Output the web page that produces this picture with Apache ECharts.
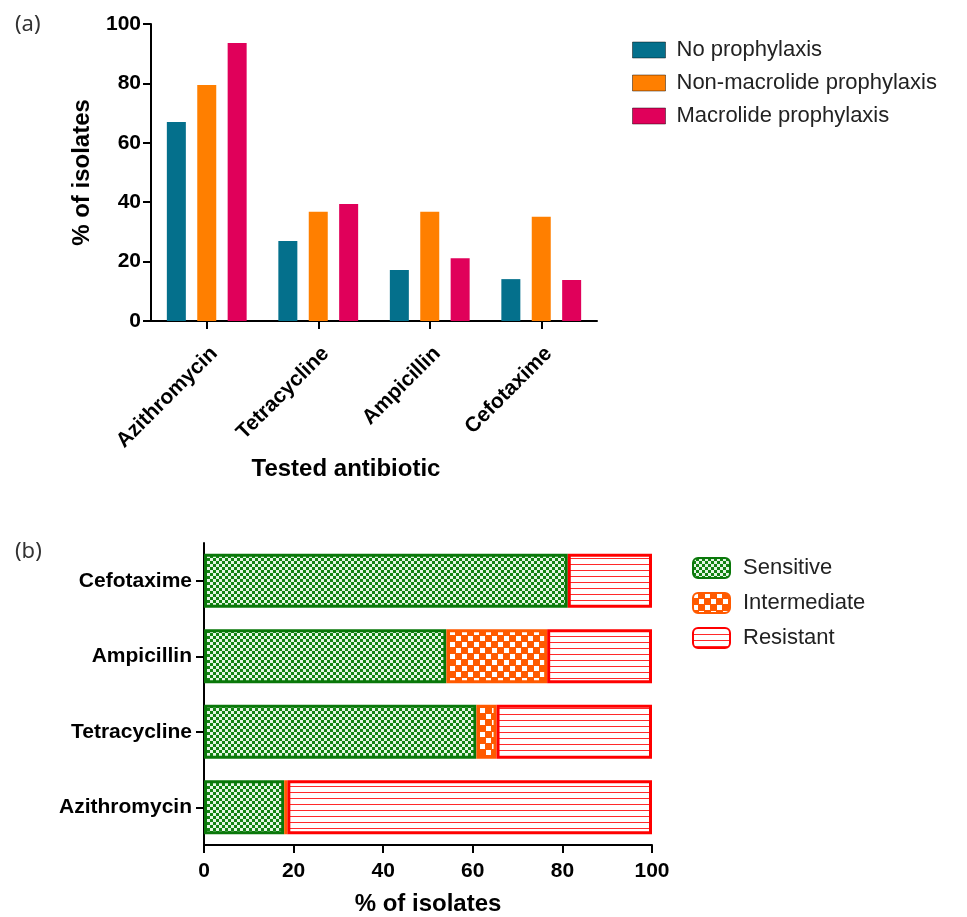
<!DOCTYPE html>
<html><head><meta charset="utf-8">
<script src="https://cdn.jsdelivr.net/npm/echarts@6/dist/echarts.min.js"></script>
<style>html,body{margin:0;padding:0;background:#fff}#c{width:967px;height:917px}</style>
</head><body><div id="c"></div>
<script>
// ---- Data: panel (a)
const antibioticsA = ['Azithromycin', 'Tetracycline', 'Ampicillin', 'Cefotaxime'];
const noProphylaxis = [67, 26.9, 17.2, 14.1];
const nonMacrolide = [79.5, 36.8, 36.8, 35.1];
const macrolide = [93.6, 39.4, 21.1, 13.8];
const yTicksA = [0, 20, 40, 60, 80, 100];

// ---- Data: panel (b)  (bottom to top)
const antibioticsB = ['Azithromycin', 'Tetracycline', 'Ampicillin', 'Cefotaxime'];
const sensitive = [17.9, 60.8, 54.1, 81.2];
const intermediate = [0.7, 4.5, 22.5, 0];
const resistant = [81.4, 34.7, 23.4, 18.8];
const xTicksB = [0, 20, 40, 60, 80, 100];

const FONT = 'Arial, "Liberation Sans", sans-serif';

function makePattern(w, h, draw) {
  const c = document.createElement('canvas');
  c.width = w; c.height = h;
  draw(c.getContext('2d'));
  return c;
}
const greenPat = makePattern(6, 6, g => {
  g.fillStyle = '#138313'; g.fillRect(0, 0, 6, 6);
  g.fillStyle = '#e4f6e4'; g.fillRect(0, 0, 3, 3); g.fillRect(3, 3, 3, 3);
});
const orangePat = makePattern(12, 12, g => {
  g.fillStyle = '#ff5a00'; g.fillRect(0, 0, 12, 12);
  g.fillStyle = '#ffffff'; g.fillRect(0, 0, 5, 5); g.fillRect(6, 6, 5, 5);
});
const redPat = makePattern(4, 6, g => {
  g.fillStyle = '#ffffff'; g.fillRect(0, 0, 4, 6);
  g.fillStyle = '#ff2a2a'; g.fillRect(0, 0, 4, 1);
});

const chart = echarts.init(document.getElementById('c'), null, {renderer: 'canvas'});

const axisLineStyle = {show: true, lineStyle: {color: '#000', width: 2}};
const tickStyle = {show: true, length: 8, lineStyle: {color: '#000', width: 2}};
const tickLabel = {color: '#000', fontSize: 21, fontWeight: 'bold', fontFamily: FONT};
const nameStyle = {color: '#000', fontSize: 24, fontWeight: 'bold', fontFamily: FONT};

chart.setOption({
  animation: false,
  backgroundColor: '#fff',
  title: [
    {text: '(a)', left: 10, top: 9, textStyle: {fontSize: 22, fontWeight: 'normal', color: '#333', fontFamily: '"Noto Sans", sans-serif'}},
    {text: '(b)', left: 10, top: 536, textStyle: {fontSize: 22, fontWeight: 'normal', color: '#333', fontFamily: '"Noto Sans", sans-serif'}}
  ],
  legend: [
    {
      data: ['No prophylaxis', 'Non-macrolide prophylaxis', 'Macrolide prophylaxis'],
      orient: 'vertical', left: 627, top: 34,
      itemWidth: 33, itemHeight: 16, itemGap: 11,
      icon: 'rect',
      itemStyle: {borderColor: 'rgba(0,0,0,0.45)', borderWidth: 1},
      textStyle: {fontSize: 22, lineHeight: 22, color: '#222', fontFamily: FONT, padding: [0, 0, 0, 6]}
    },
    {
      data: ['Sensitive', 'Intermediate', 'Resistant'],
      orient: 'vertical', left: 687, top: 552,
      itemWidth: 37, itemHeight: 20, itemGap: 13,
      icon: 'roundRect',
      textStyle: {fontSize: 22, lineHeight: 22, color: '#222', fontFamily: FONT, padding: [0, 0, 0, 8]}
    }
  ],
  grid: [
    {left: 151, top: 24, width: 446, height: 297, containLabel: false},
    {left: 204, top: 543, width: 448, height: 306, containLabel: false}
  ],
  xAxis: [
    {
      gridIndex: 0, type: 'category', data: antibioticsA,
      axisLine: axisLineStyle,
      axisTick: Object.assign({alignWithLabel: true}, tickStyle),
      axisLabel: Object.assign({rotate: 45, margin: 22, interval: 0, align: 'right', verticalAlign: 'top'}, tickLabel),
      name: 'Tested antibiotic', nameLocation: 'middle', nameGap: 136,
      nameTextStyle: Object.assign({padding: [0, 56, 0, 0]}, nameStyle)
    },
    {
      gridIndex: 1, type: 'value',
      min: xTicksB[0], max: xTicksB[xTicksB.length - 1], interval: xTicksB[1] - xTicksB[0],
      axisLine: axisLineStyle, axisTick: tickStyle,
      axisLabel: Object.assign({margin: 16}, tickLabel),
      splitLine: {show: false},
      name: '% of isolates', nameLocation: 'middle', nameGap: 47, nameTextStyle: nameStyle
    }
  ],
  yAxis: [
    {
      gridIndex: 0, type: 'value',
      min: yTicksA[0], max: yTicksA[yTicksA.length - 1], interval: yTicksA[1] - yTicksA[0],
      axisLine: axisLineStyle, axisTick: tickStyle,
      axisLabel: Object.assign({margin: 10}, tickLabel),
      splitLine: {show: false},
      name: '% of isolates', nameLocation: 'middle', nameGap: 57, nameTextStyle: nameStyle
    },
    {
      gridIndex: 1, type: 'category', data: antibioticsB,
      axisLine: axisLineStyle,
      axisTick: Object.assign({alignWithLabel: true}, tickStyle),
      axisLabel: Object.assign({margin: 12, interval: 0}, tickLabel)
    }
  ],
  series: [
    {name: 'No prophylaxis', type: 'bar', xAxisIndex: 0, yAxisIndex: 0, data: noProphylaxis,
      barWidth: 19, barGap: '60%', itemStyle: {color: '#04708c'}},
    {name: 'Non-macrolide prophylaxis', type: 'bar', xAxisIndex: 0, yAxisIndex: 0, data: nonMacrolide,
      barWidth: 19, barGap: '60%', itemStyle: {color: '#ff7f00'}},
    {name: 'Macrolide prophylaxis', type: 'bar', xAxisIndex: 0, yAxisIndex: 0, data: macrolide,
      barWidth: 19, barGap: '60%', itemStyle: {color: '#e0005a'}},

    {name: 'Sensitive', type: 'bar', xAxisIndex: 1, yAxisIndex: 1, stack: 'b', barWidth: 54,
      data: sensitive,
      itemStyle: {color: {image: greenPat, repeat: 'repeat'}, borderColor: '#0a780a', borderWidth: 3}},
    {name: 'Intermediate', type: 'bar', xAxisIndex: 1, yAxisIndex: 1, stack: 'b', barWidth: 54,
      data: intermediate.map(v => v === 0 ? {value: 0, itemStyle: {borderWidth: 0}} : v),
      itemStyle: {color: {image: orangePat, repeat: 'repeat'}, borderColor: '#ff5a00', borderWidth: 3}},
    {name: 'Resistant', type: 'bar', xAxisIndex: 1, yAxisIndex: 1, stack: 'b', barWidth: 54,
      data: resistant,
      itemStyle: {color: {image: redPat, repeat: 'repeat'}, borderColor: '#ff0000', borderWidth: 3}}
  ]
});
</script>
</body></html>
